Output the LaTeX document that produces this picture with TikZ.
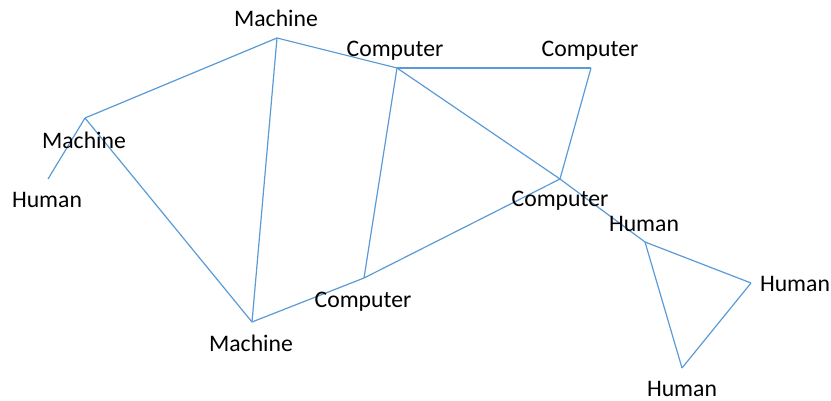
\documentclass[tikz,border=0pt]{standalone}
\usepackage{fontspec}
\setmainfont{Carlito}
\definecolor{linkblue}{HTML}{5B9BD5}
\tikzset{
  link/.style={draw=linkblue, line width=1.2pt},
  tag/.style={anchor=base, inner sep=0pt, font=\fontsize{23.7}{28}\selectfont, text=black}
}
\begin{document}
\begin{tikzpicture}[x=1pt, y=-1pt]
\useasboundingbox (0,0) rectangle (831,401);
% vertices of the network
\coordinate (mTop)   at (277,38);
\coordinate (cMid)   at (397,68);
\coordinate (cRight) at (591,68);
\coordinate (mLeft)  at (85,118);
\coordinate (hLeft)  at (48,179);
\coordinate (cHub)   at (560,179);
\coordinate (hHub)   at (645,242);
\coordinate (hEast)  at (751,283);
\coordinate (hSouth) at (682,368);
\coordinate (cLow)   at (364,278);
\coordinate (mLow)   at (252,322);
% connections
\draw[link] (mTop) -- (mLeft);
\draw[link] (mTop) -- (cMid);
\draw[link] (mTop) -- (mLow);
\draw[link] (cMid) -- (cRight);
\draw[link] (cMid) -- (cLow);
\draw[link] (cMid) -- (cHub);
\draw[link] (cRight) -- (cHub);
\draw[link] (mLeft) -- (hLeft);
\draw[link] (mLeft) -- (mLow);
\draw[link] (mLow) -- (cLow);
\draw[link] (cLow) -- (cHub);
\draw[link] (cHub) -- (hHub);
\draw[link] (hHub) -- (hEast);
\draw[link] (hHub) -- (hSouth);
\draw[link] (hEast) -- (hSouth);
% labels
\node[tag] (lmTop)   at (276,27)  {Machine};
\node[tag] (lcMid)   at (395,57)  {Computer};
\node[tag] (lcRight) at (590,57)  {Computer};
\node[tag] (lmLeft)  at (84,149)  {Machine};
\node[tag] (lhLeft)  at (47,208)  {Human};
\node[tag] (lcHub)   at (560,207) {Computer};
\node[tag] (lhHub)   at (644,232) {Human};
\node[tag] (lhEast)  at (795,291) {Human};
\node[tag] (lhSouth) at (682,396) {Human};
\node[tag] (lcLow)   at (363,307) {Computer};
\node[tag] (lmLow)   at (251,351) {Machine};
\end{tikzpicture}
\end{document}
